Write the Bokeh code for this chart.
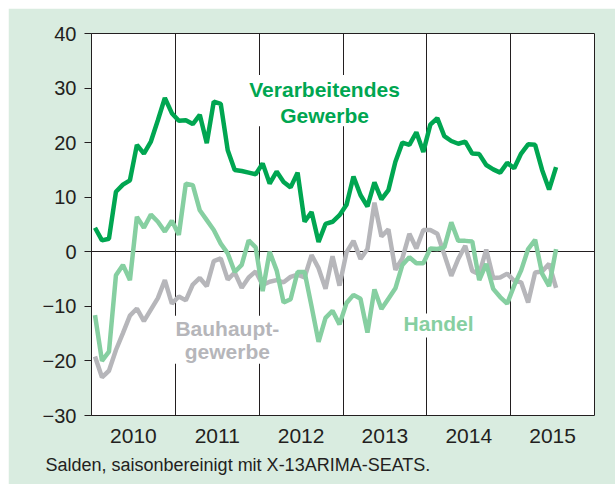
from bokeh.plotting import figure
from bokeh.models import FixedTicker, Label, BoxAnnotation, Range1d, CustomJSTickFormatter, ColumnDataSource, Spacer, Title
from bokeh.layouts import column, row
from bokeh.embed import file_html
from bokeh.resources import INLINE

# ---- data (monthly, Jan 2010 .. Jul 2015) ----
start_year = 2010
year_labels = ["2010", "2011", "2012", "2013", "2014", "2015"]
y_ticks = [-30, -20, -10, 0, 10, 20, 30, 40]

verarbeitendes = [4.4, 2.1, 2.4, 11.0, 12.3, 13.1, 19.6, 18.0, 20.2, 24.1, 28.2, 25.4,
                  24.0, 24.1, 23.4, 25.1, 19.9, 27.5, 27.1, 18.6, 15.0, 14.8, 14.5, 14.2,
                  16.2, 12.5, 14.7, 12.8, 11.8, 14.5, 5.5, 7.3, 1.8, 5.1, 5.5, 6.7,
                  8.6, 13.8, 10.4, 8.3, 12.7, 9.6, 11.3, 16.5, 20.0, 19.6, 21.9, 18.3,
                  23.3, 24.5, 21.2, 20.3, 19.8, 20.2, 18.0, 17.9, 15.9, 15.1, 14.5, 16.3,
                  15.3, 18.0, 19.7, 19.6, 15.0, 11.4, 15.5]

handel = [-11.6, -20.0, -18.3, -4.3, -2.4, -5.2, 6.4, 4.4, 6.8, 5.5, 3.7, 5.7,
          3.1, 12.5, 12.2, 7.6, 5.8, 4.0, 1.5, -0.3, -3.7, -2.4, 2.1, 0.8,
          -7.2, 0.0, -3.4, -9.3, -8.7, -3.7, -3.7, -10.0, -16.5, -12.1, -10.8, -13.3,
          -9.4, -7.9, -8.6, -14.8, -6.9, -10.5, -8.6, -6.7, -2.4, -1.0, -2.1, -2.1,
          0.6, 0.5, 0.8, 5.4, 2.0, 2.0, 1.9, -5.2, -2.2, -6.8, -8.3, -9.5,
          -6.2, -3.4, 0.5, 2.2, -4.0, -6.3, 0.5]

bauhaupt = [-19.2, -23.0, -21.8, -18.0, -14.9, -11.7, -10.4, -12.7, -10.6, -8.5, -5.2, -9.5,
            -8.2, -8.9, -6.0, -4.8, -6.3, -1.7, -1.2, -5.1, -3.8, -6.6, -4.7, -3.6,
            -6.1, -5.5, -5.2, -5.6, -4.6, -4.2, -4.7, -0.6, -3.0, -6.8, -0.8, -6.2,
            -0.1, 2.0, -1.3, 0.5, 9.0, 2.8, 4.1, -3.3, -1.2, 3.3, 0.6, 4.0,
            4.0, 3.3, -0.5, -4.4, -1.3, 1.1, -3.5, -4.1, 0.4, -4.8, -4.7, -4.0,
            -5.3, -5.6, -9.3, -3.8, -3.6, -2.2, -6.6]

caption = "Salden, saisonbereinigt mit X-13ARIMA-SEATS."

n = len(verarbeitendes)
x = [start_year + (m + 0.5) / 12 for m in range(n)]
src = ColumnDataSource(dict(x=x, v=verarbeitendes, h=handel, b=bauhaupt))

DG = "#00a651"
LG = "#86cfa1"
GR = "#b6b6ba"
BG = "#d9ece0"
INK = "#231f20"
FONT = "Liberation Sans"

p = figure(width=607, height=476, x_range=Range1d(2010, 2016), y_range=Range1d(-30, 40),
           output_backend="svg", toolbar_location=None,
           min_border_left=83, min_border_right=21, min_border_top=25, min_border_bottom=69,
           background_fill_color="white", border_fill_color=BG,
           outline_line_color=INK, outline_line_width=1)

# small gap, then caption below the x axis
p.add_layout(Title(text=" ", standoff=0, text_font_size="4px"), "below")
p.add_layout(Title(text=caption, align="left", offset=-46, standoff=0,
                   text_font=FONT, text_font_size="18px", text_font_style="normal",
                   text_color=INK), "below")

# axes
p.yaxis.ticker = FixedTicker(ticks=y_ticks)
p.yaxis.formatter = CustomJSTickFormatter(code="return tick < 0 ? '\u2212' + Math.abs(tick) : String(tick);")
p.yaxis.major_tick_out = 7
p.yaxis.major_tick_in = 0
p.yaxis.minor_tick_line_color = None
p.yaxis.axis_line_color = INK
p.yaxis.major_tick_line_color = INK
p.yaxis.major_label_standoff = 8
p.yaxis.major_label_text_font = FONT
p.yaxis.major_label_text_font_size = "20px"
p.yaxis.major_label_text_color = INK

p.xaxis.ticker = FixedTicker(ticks=[start_year + i + 0.5 for i in range(len(year_labels))])
p.xaxis.formatter = CustomJSTickFormatter(code="return String(Math.floor(tick));")
p.xaxis.major_tick_out = 0
p.xaxis.major_tick_in = 0
p.xaxis.minor_tick_line_color = None
p.xaxis.axis_line_color = None
p.xaxis.major_label_standoff = 13
p.xaxis.major_label_text_font = FONT
p.xaxis.major_label_text_font_size = "21px"
p.xaxis.major_label_text_color = INK

# grid: year separators and zero line
p.xgrid.ticker = FixedTicker(ticks=[start_year + i for i in range(1, len(year_labels))])
p.xgrid.grid_line_color = INK
p.xgrid.grid_line_width = 1
p.ygrid.ticker = FixedTicker(ticks=[0])
p.ygrid.grid_line_color = INK
p.ygrid.grid_line_width = 1

# white boxes behind the series labels
for (l, r, b, t) in [(2011.84, 2013.74, 23.0, 32.4),
                     (2010.95, 2012.32, -20.5, -11.7),
                     (2013.69, 2014.60, -15.7, -11.3)]:
    p.add_layout(BoxAnnotation(left=l, right=r, bottom=b, top=t, fill_color="white",
                               fill_alpha=1, line_color=None, level="glyph"))

# series
p.line("x", "b", source=src, line_color=GR, line_width=4.5)
p.line("x", "h", source=src, line_color=LG, line_width=4.5)
p.line("x", "v", source=src, line_color=DG, line_width=4.5)

def lab(xx, yy, txt, col, size="21px", style="bold", align="center"):
    p.add_layout(Label(x=xx, y=yy, text=txt, text_align=align, text_baseline="middle",
                       text_font=FONT, text_font_style=style, text_font_size=size,
                       text_color=col))

lab(2012.78, 29.8, "Verarbeitendes", DG)
lab(2012.78, 24.9, "Gewerbe", DG)
lab(2011.62, -14.0, "Bauhaupt-", GR)
lab(2011.62, -18.3, "gewerbe", GR)
lab(2014.14, -13.1, "Handel", LG)

layout = column(Spacer(height=8, width=615), row(Spacer(width=8, height=476), p))
open("out.html", "w").write(file_html(layout, INLINE))
